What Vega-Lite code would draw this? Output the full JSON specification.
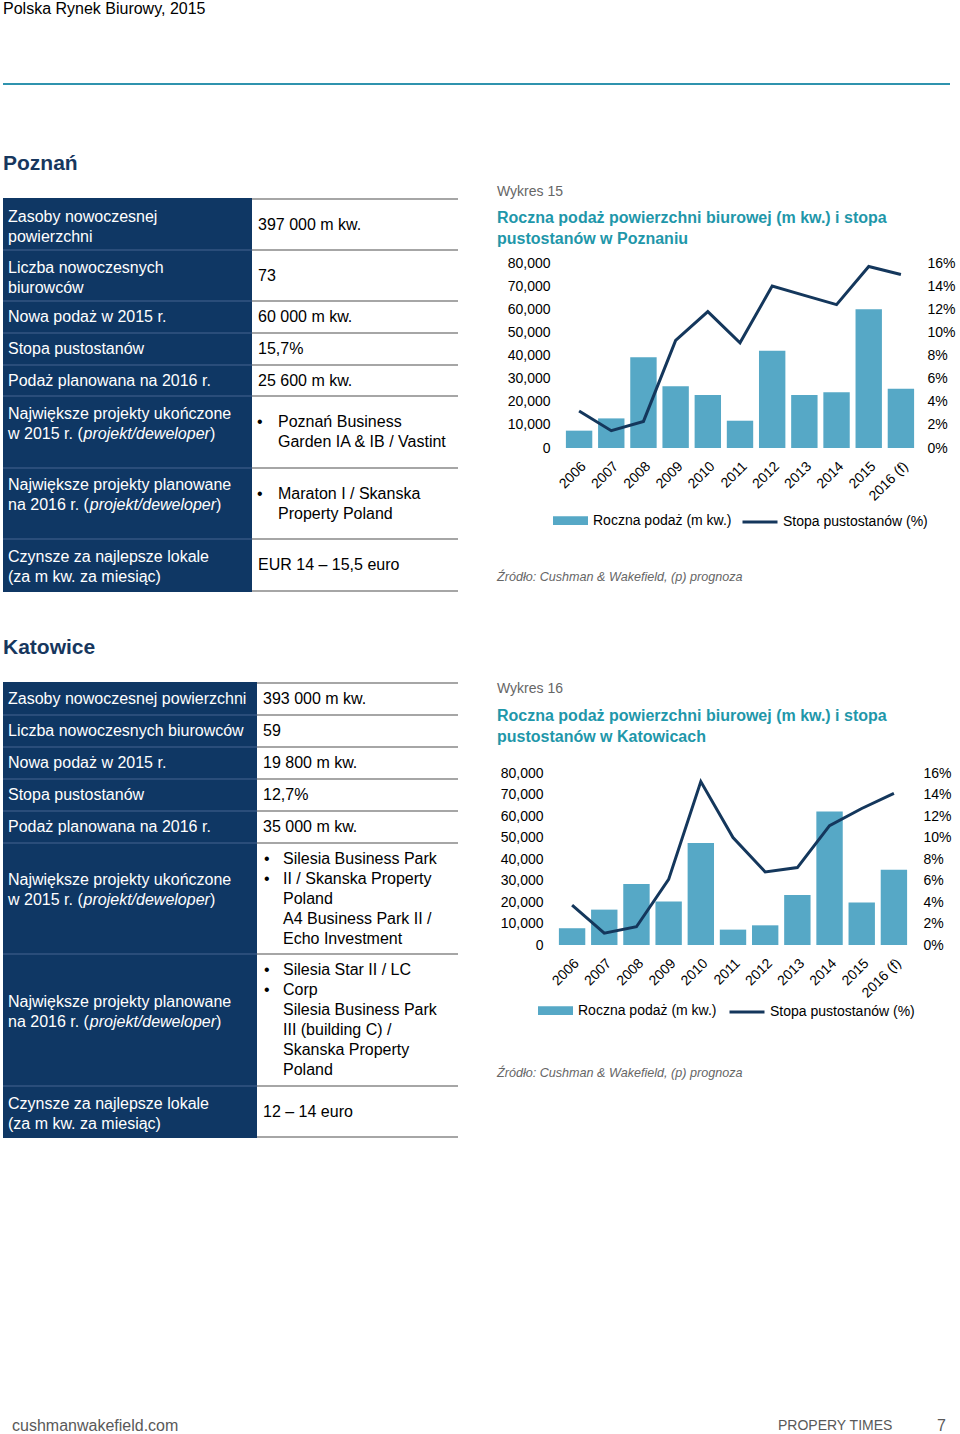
{
"$schema": "https://vega.github.io/schema/vega-lite/v6.json",
"background": "white",
"padding": {"left": 3, "top": 1, "right": 0, "bottom": 0},
"config": {
  "font": "Liberation Sans",
  "view": {"stroke": null},
  "text": {"font": "Liberation Sans"},
  "axis": {"labelFont": "Liberation Sans", "labelColor": "#000000", "labelFontSize": 14},
  "legend": {"labelFont": "Liberation Sans", "labelColor": "#000000", "labelFontSize": 14},
  "title": {"font": "Liberation Sans", "subtitleFont": "Liberation Sans"}
},
"datasets": {"one": [{"k": 1}], "none": []},
"spacing": 0,
"resolve": {"scale": {"fill": "independent", "stroke": "independent"}, "legend": {"fill": "independent", "stroke": "independent"}},
"vconcat": [
  {"width": 947, "height": 2, "data": {"name": "one"}, "mark": {"type": "rect", "color": "#2f93ae"}, "encoding": {},
   "title": {"text": "Polska Rynek Biurowy, 2015", "anchor": "start", "fontSize": 16, "fontWeight": "normal", "color": "#000000", "offset": 66}},
  {"width": 10, "height": 68, "data": {"name": "none"}, "mark": "text", "encoding": {}},
  {"title": {"text": "Poznań", "anchor": "start", "fontSize": 21, "fontWeight": "bold", "color": "#17375e", "offset": 11},
   "spacing": 39,
   "resolve": {"scale": {"fill": "independent", "stroke": "independent"}, "legend": {"fill": "independent", "stroke": "independent"}},
   "hconcat": [
    {"spacing": 0, "vconcat": [
      {"width": 10, "height": 12, "data": {"name": "none"}, "mark": "text", "encoding": {}},
      {"spacing": 0, "hconcat": [
        {"width": 249, "height": 2, "data": {"name": "one"}, "mark": {"type": "rect", "color": "#0f3764"}, "encoding": {}},
        {"width": 206, "height": 2, "data": {"name": "one"}, "mark": {"type": "rect", "color": "#a6a6a6"}, "encoding": {}}]},
      {"spacing": 0, "data": {"values": [{"label": ["Zasoby nowoczesnej", "powierzchni"], "value": ["397 000 m kw."]}]},
       "hconcat": [
        {"width": 249, "height": 49, "layer": [
          {"mark": {"type": "rect", "color": "#0f3764"}, "encoding": {}},
          {"mark": {"type": "text", "x": 5, "dy": -8, "align": "left", "baseline": "middle", "fontSize": 16, "color": "#ffffff", "lineHeight": 20}, "encoding": {"text": {"field": "label"}}}]},
        {"width": 206, "height": 49, "mark": {"type": "text", "x": 6, "align": "left", "baseline": "middle", "fontSize": 16, "color": "#000000", "lineHeight": 20}, "encoding": {"text": {"field": "value"}}}]},
      {"spacing": 0, "hconcat": [
        {"width": 249, "height": 2, "data": {"name": "one"}, "mark": {"type": "rect", "color": "#2a4d7a"}, "encoding": {}},
        {"width": 206, "height": 2, "data": {"name": "one"}, "mark": {"type": "rect", "color": "#a6a6a6"}, "encoding": {}}]},
      {"spacing": 0, "data": {"values": [{"label": ["Liczba nowoczesnych", "biurowców"], "value": ["73"]}]},
       "hconcat": [
        {"width": 249, "height": 49, "layer": [
          {"mark": {"type": "rect", "color": "#0f3764"}, "encoding": {}},
          {"mark": {"type": "text", "x": 5, "dy": -8, "align": "left", "baseline": "middle", "fontSize": 16, "color": "#ffffff", "lineHeight": 20}, "encoding": {"text": {"field": "label"}}}]},
        {"width": 206, "height": 49, "mark": {"type": "text", "x": 6, "align": "left", "baseline": "middle", "fontSize": 16, "color": "#000000", "lineHeight": 20}, "encoding": {"text": {"field": "value"}}}]},
      {"spacing": 0, "hconcat": [
        {"width": 249, "height": 2, "data": {"name": "one"}, "mark": {"type": "rect", "color": "#2a4d7a"}, "encoding": {}},
        {"width": 206, "height": 2, "data": {"name": "one"}, "mark": {"type": "rect", "color": "#a6a6a6"}, "encoding": {}}]},
      {"spacing": 0, "data": {"values": [{"label": ["Nowa podaż w 2015 r."], "value": ["60 000 m kw."]}]},
       "hconcat": [
        {"width": 249, "height": 30, "layer": [
          {"mark": {"type": "rect", "color": "#0f3764"}, "encoding": {}},
          {"mark": {"type": "text", "x": 5, "align": "left", "baseline": "middle", "fontSize": 16, "color": "#ffffff", "lineHeight": 20}, "encoding": {"text": {"field": "label"}}}]},
        {"width": 206, "height": 30, "mark": {"type": "text", "x": 6, "align": "left", "baseline": "middle", "fontSize": 16, "color": "#000000", "lineHeight": 20}, "encoding": {"text": {"field": "value"}}}]},
      {"spacing": 0, "hconcat": [
        {"width": 249, "height": 2, "data": {"name": "one"}, "mark": {"type": "rect", "color": "#2a4d7a"}, "encoding": {}},
        {"width": 206, "height": 2, "data": {"name": "one"}, "mark": {"type": "rect", "color": "#a6a6a6"}, "encoding": {}}]},
      {"spacing": 0, "data": {"values": [{"label": ["Stopa pustostanów"], "value": ["15,7%"]}]},
       "hconcat": [
        {"width": 249, "height": 30, "layer": [
          {"mark": {"type": "rect", "color": "#0f3764"}, "encoding": {}},
          {"mark": {"type": "text", "x": 5, "align": "left", "baseline": "middle", "fontSize": 16, "color": "#ffffff", "lineHeight": 20}, "encoding": {"text": {"field": "label"}}}]},
        {"width": 206, "height": 30, "mark": {"type": "text", "x": 6, "align": "left", "baseline": "middle", "fontSize": 16, "color": "#000000", "lineHeight": 20}, "encoding": {"text": {"field": "value"}}}]},
      {"spacing": 0, "hconcat": [
        {"width": 249, "height": 2, "data": {"name": "one"}, "mark": {"type": "rect", "color": "#2a4d7a"}, "encoding": {}},
        {"width": 206, "height": 2, "data": {"name": "one"}, "mark": {"type": "rect", "color": "#a6a6a6"}, "encoding": {}}]},
      {"spacing": 0, "data": {"values": [{"label": ["Podaż planowana na 2016 r."], "value": ["25 600 m kw."]}]},
       "hconcat": [
        {"width": 249, "height": 29, "layer": [
          {"mark": {"type": "rect", "color": "#0f3764"}, "encoding": {}},
          {"mark": {"type": "text", "x": 5, "align": "left", "baseline": "middle", "fontSize": 16, "color": "#ffffff", "lineHeight": 20}, "encoding": {"text": {"field": "label"}}}]},
        {"width": 206, "height": 29, "mark": {"type": "text", "x": 6, "align": "left", "baseline": "middle", "fontSize": 16, "color": "#000000", "lineHeight": 20}, "encoding": {"text": {"field": "value"}}}]},
      {"spacing": 0, "hconcat": [
        {"width": 249, "height": 2, "data": {"name": "one"}, "mark": {"type": "rect", "color": "#2a4d7a"}, "encoding": {}},
        {"width": 206, "height": 2, "data": {"name": "one"}, "mark": {"type": "rect", "color": "#a6a6a6"}, "encoding": {}}]},
      {"spacing": 0, "data": {"values": [{"l1": "Największe projekty ukończone", "l2a": "w 2015 r. (", "l2b": "projekt/deweloper", "l2c": ")", "bullet": ["•", ""], "value": ["Poznań Business", "Garden IA & IB / Vastint"]}]},
       "hconcat": [
        {"width": 249, "height": 70, "layer": [
          {"mark": {"type": "rect", "color": "#0f3764"}, "encoding": {}},
          {"mark": {"type": "text", "x": 5, "dy": -18.5, "align": "left", "baseline": "middle", "fontSize": 16, "color": "#ffffff"}, "encoding": {"text": {"field": "l1"}}},
          {"mark": {"type": "text", "x": 5, "dy": 1.5, "align": "left", "baseline": "middle", "fontSize": 16, "color": "#ffffff"}, "encoding": {"text": {"field": "l2a"}}},
          {"mark": {"type": "text", "x": 80.6, "dy": 1.5, "align": "left", "baseline": "middle", "fontSize": 16, "fontStyle": "italic", "color": "#ffffff"}, "encoding": {"text": {"field": "l2b"}}},
          {"mark": {"type": "text", "x": 206.9, "dy": 1.5, "align": "left", "baseline": "middle", "fontSize": 16, "color": "#ffffff"}, "encoding": {"text": {"field": "l2c"}}}]},
        {"width": 206, "height": 70, "layer": [
          {"mark": {"type": "text", "x": 5, "dy": -10, "align": "left", "baseline": "middle", "fontSize": 16, "color": "#000000", "lineHeight": 20}, "encoding": {"text": {"field": "bullet"}}},
          {"mark": {"type": "text", "x": 26, "dy": -10, "align": "left", "baseline": "middle", "fontSize": 16, "color": "#000000", "lineHeight": 20}, "encoding": {"text": {"field": "value"}}}]}]},
      {"spacing": 0, "hconcat": [
        {"width": 249, "height": 2, "data": {"name": "one"}, "mark": {"type": "rect", "color": "#2a4d7a"}, "encoding": {}},
        {"width": 206, "height": 2, "data": {"name": "one"}, "mark": {"type": "rect", "color": "#a6a6a6"}, "encoding": {}}]},
      {"spacing": 0, "data": {"values": [{"l1": "Największe projekty planowane", "l2a": "na 2016 r. (", "l2b": "projekt/deweloper", "l2c": ")", "bullet": ["•", ""], "value": ["Maraton I / Skanska", "Property Poland"]}]},
       "hconcat": [
        {"width": 249, "height": 69, "layer": [
          {"mark": {"type": "rect", "color": "#0f3764"}, "encoding": {}},
          {"mark": {"type": "text", "x": 5, "dy": -18.5, "align": "left", "baseline": "middle", "fontSize": 16, "color": "#ffffff"}, "encoding": {"text": {"field": "l1"}}},
          {"mark": {"type": "text", "x": 5, "dy": 1.5, "align": "left", "baseline": "middle", "fontSize": 16, "color": "#ffffff"}, "encoding": {"text": {"field": "l2a"}}},
          {"mark": {"type": "text", "x": 86.8, "dy": 1.5, "align": "left", "baseline": "middle", "fontSize": 16, "fontStyle": "italic", "color": "#ffffff"}, "encoding": {"text": {"field": "l2b"}}},
          {"mark": {"type": "text", "x": 213.1, "dy": 1.5, "align": "left", "baseline": "middle", "fontSize": 16, "color": "#ffffff"}, "encoding": {"text": {"field": "l2c"}}}]},
        {"width": 206, "height": 69, "layer": [
          {"mark": {"type": "text", "x": 5, "dy": -10, "align": "left", "baseline": "middle", "fontSize": 16, "color": "#000000", "lineHeight": 20}, "encoding": {"text": {"field": "bullet"}}},
          {"mark": {"type": "text", "x": 26, "dy": -10, "align": "left", "baseline": "middle", "fontSize": 16, "color": "#000000", "lineHeight": 20}, "encoding": {"text": {"field": "value"}}}]}]},
      {"spacing": 0, "hconcat": [
        {"width": 249, "height": 2, "data": {"name": "one"}, "mark": {"type": "rect", "color": "#2a4d7a"}, "encoding": {}},
        {"width": 206, "height": 2, "data": {"name": "one"}, "mark": {"type": "rect", "color": "#a6a6a6"}, "encoding": {}}]},
      {"spacing": 0, "data": {"values": [{"label": ["Czynsze za najlepsze lokale", "(za m kw. za miesiąc)"], "value": ["EUR 14 – 15,5 euro"]}]},
       "hconcat": [
        {"width": 249, "height": 50, "layer": [
          {"mark": {"type": "rect", "color": "#0f3764"}, "encoding": {}},
          {"mark": {"type": "text", "x": 5, "dy": -8, "align": "left", "baseline": "middle", "fontSize": 16, "color": "#ffffff", "lineHeight": 20}, "encoding": {"text": {"field": "label"}}}]},
        {"width": 206, "height": 50, "mark": {"type": "text", "x": 6, "align": "left", "baseline": "middle", "fontSize": 16, "color": "#000000", "lineHeight": 20}, "encoding": {"text": {"field": "value"}}}]},
      {"spacing": 0, "hconcat": [
        {"width": 249, "height": 2, "data": {"name": "one"}, "mark": {"type": "rect", "color": "#0f3764"}, "encoding": {}},
        {"width": 206, "height": 2, "data": {"name": "one"}, "mark": {"type": "rect", "color": "#a6a6a6"}, "encoding": {}}]}
    ]},
    {"spacing": 0,
     "resolve": {"scale": {"fill": "independent", "stroke": "independent"}, "legend": {"fill": "independent", "stroke": "independent"}},
     "vconcat": [
      {"width": 354, "height": 70, "data": {"name": "none"}, "mark": "text", "encoding": {},
       "title": {"text": "Wykres 15", "subtitle": ["Roczna podaż powierzchni biurowej (m kw.) i stopa", "pustostanów  w Poznaniu"], "anchor": "start", "dx": -66, "fontSize": 14, "fontWeight": "normal", "color": "#666666", "subtitleFontSize": 16, "subtitleFontWeight": "bold", "subtitleColor": "#1f97aa", "subtitleLineHeight": 21, "subtitlePadding": 11, "offset": -61}},
      {"width": 354, "height": 185,
       "data": {"values": [
         {"year": "2006", "supply": 7500, "vacancy": 3.2},
         {"year": "2007", "supply": 12800, "vacancy": 1.5},
         {"year": "2008", "supply": 39200, "vacancy": 2.3},
         {"year": "2009", "supply": 26700, "vacancy": 9.3},
         {"year": "2010", "supply": 22900, "vacancy": 11.8},
         {"year": "2011", "supply": 11800, "vacancy": 9.1},
         {"year": "2012", "supply": 42100, "vacancy": 14.0},
         {"year": "2013", "supply": 22900, "vacancy": 13.2},
         {"year": "2014", "supply": 24100, "vacancy": 12.4},
         {"year": "2015", "supply": 60000, "vacancy": 15.7},
         {"year": "2016 (f)", "supply": 25600, "vacancy": 15.0}]},
       "encoding": {"x": {"field": "year", "type": "ordinal", "sort": null, "scale": {"paddingInner": 0.18, "paddingOuter": 0.09}, "axis": {"title": null, "labelAngle": -45, "ticks": false, "domain": false, "labelPadding": 11}}},
       "layer": [
        {"mark": {"type": "bar"}, "encoding": {
          "y": {"field": "supply", "type": "quantitative", "scale": {"domain": [0, 80000], "nice": false}, "axis": {"orient": "left", "title": null, "values": [0, 10000, 20000, 30000, 40000, 50000, 60000, 70000, 80000], "format": ",d", "grid": false, "domain": false, "ticks": false, "labelPadding": 13}},
          "fill": {"datum": "Roczna podaż (m kw.)", "scale": {"range": ["#56a8c6"]}, "legend": {"orient": "none", "legendX": -10, "legendY": 240, "title": null, "symbolType": "M-1,-0.25H1V0.25H-1Z", "symbolSize": 1225, "symbolStrokeWidth": 0, "labelOffset": 5, "labelLimit": 300, "padding": 0}}}},
        {"mark": {"type": "line", "strokeWidth": 3}, "encoding": {
          "y": {"field": "vacancy", "type": "quantitative", "scale": {"domain": [0, 16], "nice": false}, "axis": {"orient": "right", "title": null, "values": [0, 2, 4, 6, 8, 10, 12, 14, 16], "labelExpr": "datum.value + '%'", "grid": false, "domain": false, "ticks": false, "labelPadding": 10}},
          "stroke": {"datum": "Stopa pustostanów (%)", "scale": {"range": ["#14375c"]}, "legend": {"orient": "none", "legendX": 178, "legendY": 240, "title": null, "symbolType": "M-1,0H1", "symbolSize": 1225, "symbolStrokeWidth": 3, "labelOffset": 4, "labelLimit": 300, "padding": 0}}}}
       ],
       "resolve": {"scale": {"y": "independent"}}},
      {"width": 10, "height": 42, "data": {"name": "none"}, "mark": "text", "encoding": {}},
      {"width": 300, "height": 1, "data": {"name": "none"}, "mark": "text", "encoding": {},
       "title": {"text": "Źródło: Cushman & Wakefield, (p) prognoza", "anchor": "start", "dx": -66, "fontSize": 12.6, "fontStyle": "italic", "fontWeight": "normal", "color": "#666666", "offset": 0}}
    ]}
   ]},
  {"width": 10, "height": 45, "data": {"name": "none"}, "mark": "text", "encoding": {}},
  {"title": {"text": "Katowice", "anchor": "start", "fontSize": 21, "fontWeight": "bold", "color": "#17375e", "offset": 24},
   "spacing": 39,
   "resolve": {"scale": {"fill": "independent", "stroke": "independent"}, "legend": {"fill": "independent", "stroke": "independent"}},
   "hconcat": [
    {"spacing": 0, "vconcat": [
      {"spacing": 0, "hconcat": [
        {"width": 254, "height": 2, "data": {"name": "one"}, "mark": {"type": "rect", "color": "#0f3764"}, "encoding": {}},
        {"width": 201, "height": 2, "data": {"name": "one"}, "mark": {"type": "rect", "color": "#a6a6a6"}, "encoding": {}}]},
      {"spacing": 0, "data": {"values": [{"label": ["Zasoby nowoczesnej powierzchni"], "value": ["393 000 m kw."]}]},
       "hconcat": [
        {"width": 254, "height": 30, "layer": [
          {"mark": {"type": "rect", "color": "#0f3764"}, "encoding": {}},
          {"mark": {"type": "text", "x": 5, "align": "left", "baseline": "middle", "fontSize": 16, "color": "#ffffff", "lineHeight": 20}, "encoding": {"text": {"field": "label"}}}]},
        {"width": 201, "height": 30, "mark": {"type": "text", "x": 6, "align": "left", "baseline": "middle", "fontSize": 16, "color": "#000000", "lineHeight": 20}, "encoding": {"text": {"field": "value"}}}]},
      {"spacing": 0, "hconcat": [
        {"width": 254, "height": 2, "data": {"name": "one"}, "mark": {"type": "rect", "color": "#2a4d7a"}, "encoding": {}},
        {"width": 201, "height": 2, "data": {"name": "one"}, "mark": {"type": "rect", "color": "#a6a6a6"}, "encoding": {}}]},
      {"spacing": 0, "data": {"values": [{"label": ["Liczba nowoczesnych biurowców"], "value": ["59"]}]},
       "hconcat": [
        {"width": 254, "height": 30, "layer": [
          {"mark": {"type": "rect", "color": "#0f3764"}, "encoding": {}},
          {"mark": {"type": "text", "x": 5, "align": "left", "baseline": "middle", "fontSize": 16, "color": "#ffffff", "lineHeight": 20}, "encoding": {"text": {"field": "label"}}}]},
        {"width": 201, "height": 30, "mark": {"type": "text", "x": 6, "align": "left", "baseline": "middle", "fontSize": 16, "color": "#000000", "lineHeight": 20}, "encoding": {"text": {"field": "value"}}}]},
      {"spacing": 0, "hconcat": [
        {"width": 254, "height": 2, "data": {"name": "one"}, "mark": {"type": "rect", "color": "#2a4d7a"}, "encoding": {}},
        {"width": 201, "height": 2, "data": {"name": "one"}, "mark": {"type": "rect", "color": "#a6a6a6"}, "encoding": {}}]},
      {"spacing": 0, "data": {"values": [{"label": ["Nowa podaż w 2015 r."], "value": ["19 800 m kw."]}]},
       "hconcat": [
        {"width": 254, "height": 30, "layer": [
          {"mark": {"type": "rect", "color": "#0f3764"}, "encoding": {}},
          {"mark": {"type": "text", "x": 5, "align": "left", "baseline": "middle", "fontSize": 16, "color": "#ffffff", "lineHeight": 20}, "encoding": {"text": {"field": "label"}}}]},
        {"width": 201, "height": 30, "mark": {"type": "text", "x": 6, "align": "left", "baseline": "middle", "fontSize": 16, "color": "#000000", "lineHeight": 20}, "encoding": {"text": {"field": "value"}}}]},
      {"spacing": 0, "hconcat": [
        {"width": 254, "height": 2, "data": {"name": "one"}, "mark": {"type": "rect", "color": "#2a4d7a"}, "encoding": {}},
        {"width": 201, "height": 2, "data": {"name": "one"}, "mark": {"type": "rect", "color": "#a6a6a6"}, "encoding": {}}]},
      {"spacing": 0, "data": {"values": [{"label": ["Stopa pustostanów"], "value": ["12,7%"]}]},
       "hconcat": [
        {"width": 254, "height": 30, "layer": [
          {"mark": {"type": "rect", "color": "#0f3764"}, "encoding": {}},
          {"mark": {"type": "text", "x": 5, "align": "left", "baseline": "middle", "fontSize": 16, "color": "#ffffff", "lineHeight": 20}, "encoding": {"text": {"field": "label"}}}]},
        {"width": 201, "height": 30, "mark": {"type": "text", "x": 6, "align": "left", "baseline": "middle", "fontSize": 16, "color": "#000000", "lineHeight": 20}, "encoding": {"text": {"field": "value"}}}]},
      {"spacing": 0, "hconcat": [
        {"width": 254, "height": 2, "data": {"name": "one"}, "mark": {"type": "rect", "color": "#2a4d7a"}, "encoding": {}},
        {"width": 201, "height": 2, "data": {"name": "one"}, "mark": {"type": "rect", "color": "#a6a6a6"}, "encoding": {}}]},
      {"spacing": 0, "data": {"values": [{"label": ["Podaż planowana na 2016 r."], "value": ["35 000 m kw."]}]},
       "hconcat": [
        {"width": 254, "height": 30, "layer": [
          {"mark": {"type": "rect", "color": "#0f3764"}, "encoding": {}},
          {"mark": {"type": "text", "x": 5, "align": "left", "baseline": "middle", "fontSize": 16, "color": "#ffffff", "lineHeight": 20}, "encoding": {"text": {"field": "label"}}}]},
        {"width": 201, "height": 30, "mark": {"type": "text", "x": 6, "align": "left", "baseline": "middle", "fontSize": 16, "color": "#000000", "lineHeight": 20}, "encoding": {"text": {"field": "value"}}}]},
      {"spacing": 0, "hconcat": [
        {"width": 254, "height": 2, "data": {"name": "one"}, "mark": {"type": "rect", "color": "#2a4d7a"}, "encoding": {}},
        {"width": 201, "height": 2, "data": {"name": "one"}, "mark": {"type": "rect", "color": "#a6a6a6"}, "encoding": {}}]},
      {"spacing": 0, "data": {"values": [{"l1": "Największe projekty ukończone", "l2a": "w 2015 r. (", "l2b": "projekt/deweloper", "l2c": ")", "bullet": ["•", "", "", "•", ""], "value": ["Silesia Business Park", "II / Skanska Property", "Poland", "A4 Business Park II /", "Echo Investment"]}]},
       "hconcat": [
        {"width": 254, "height": 109, "layer": [
          {"mark": {"type": "rect", "color": "#0f3764"}, "encoding": {}},
          {"mark": {"type": "text", "x": 5, "dy": -18.5, "align": "left", "baseline": "middle", "fontSize": 16, "color": "#ffffff"}, "encoding": {"text": {"field": "l1"}}},
          {"mark": {"type": "text", "x": 5, "dy": 1.5, "align": "left", "baseline": "middle", "fontSize": 16, "color": "#ffffff"}, "encoding": {"text": {"field": "l2a"}}},
          {"mark": {"type": "text", "x": 80.6, "dy": 1.5, "align": "left", "baseline": "middle", "fontSize": 16, "fontStyle": "italic", "color": "#ffffff"}, "encoding": {"text": {"field": "l2b"}}},
          {"mark": {"type": "text", "x": 206.9, "dy": 1.5, "align": "left", "baseline": "middle", "fontSize": 16, "color": "#ffffff"}, "encoding": {"text": {"field": "l2c"}}}]},
        {"width": 201, "height": 109, "layer": [
          {"mark": {"type": "text", "x": 7, "dy": -40, "align": "left", "baseline": "middle", "fontSize": 16, "color": "#000000", "lineHeight": 20}, "encoding": {"text": {"field": "bullet"}}},
          {"mark": {"type": "text", "x": 26, "dy": -40, "align": "left", "baseline": "middle", "fontSize": 16, "color": "#000000", "lineHeight": 20}, "encoding": {"text": {"field": "value"}}}]}]},
      {"spacing": 0, "hconcat": [
        {"width": 254, "height": 2, "data": {"name": "one"}, "mark": {"type": "rect", "color": "#2a4d7a"}, "encoding": {}},
        {"width": 201, "height": 2, "data": {"name": "one"}, "mark": {"type": "rect", "color": "#a6a6a6"}, "encoding": {}}]},
      {"spacing": 0, "data": {"values": [{"l1": "Największe projekty planowane", "l2a": "na 2016 r. (", "l2b": "projekt/deweloper", "l2c": ")", "bullet": ["•", "", "•", "", "", ""], "value": ["Silesia Star II / LC", "Corp", "Silesia Business Park", "III (building C) /", "Skanska Property", "Poland"]}]},
       "hconcat": [
        {"width": 254, "height": 130, "layer": [
          {"mark": {"type": "rect", "color": "#0f3764"}, "encoding": {}},
          {"mark": {"type": "text", "x": 5, "dy": -18.5, "align": "left", "baseline": "middle", "fontSize": 16, "color": "#ffffff"}, "encoding": {"text": {"field": "l1"}}},
          {"mark": {"type": "text", "x": 5, "dy": 1.5, "align": "left", "baseline": "middle", "fontSize": 16, "color": "#ffffff"}, "encoding": {"text": {"field": "l2a"}}},
          {"mark": {"type": "text", "x": 86.8, "dy": 1.5, "align": "left", "baseline": "middle", "fontSize": 16, "fontStyle": "italic", "color": "#ffffff"}, "encoding": {"text": {"field": "l2b"}}},
          {"mark": {"type": "text", "x": 213.1, "dy": 1.5, "align": "left", "baseline": "middle", "fontSize": 16, "color": "#ffffff"}, "encoding": {"text": {"field": "l2c"}}}]},
        {"width": 201, "height": 130, "layer": [
          {"mark": {"type": "text", "x": 7, "dy": -50, "align": "left", "baseline": "middle", "fontSize": 16, "color": "#000000", "lineHeight": 20}, "encoding": {"text": {"field": "bullet"}}},
          {"mark": {"type": "text", "x": 26, "dy": -50, "align": "left", "baseline": "middle", "fontSize": 16, "color": "#000000", "lineHeight": 20}, "encoding": {"text": {"field": "value"}}}]}]},
      {"spacing": 0, "hconcat": [
        {"width": 254, "height": 2, "data": {"name": "one"}, "mark": {"type": "rect", "color": "#2a4d7a"}, "encoding": {}},
        {"width": 201, "height": 2, "data": {"name": "one"}, "mark": {"type": "rect", "color": "#a6a6a6"}, "encoding": {}}]},
      {"spacing": 0, "data": {"values": [{"label": ["Czynsze za najlepsze lokale", "(za m kw. za miesiąc)"], "value": ["12 – 14 euro"]}]},
       "hconcat": [
        {"width": 254, "height": 49, "layer": [
          {"mark": {"type": "rect", "color": "#0f3764"}, "encoding": {}},
          {"mark": {"type": "text", "x": 5, "dy": -8, "align": "left", "baseline": "middle", "fontSize": 16, "color": "#ffffff", "lineHeight": 20}, "encoding": {"text": {"field": "label"}}}]},
        {"width": 201, "height": 49, "mark": {"type": "text", "x": 6, "align": "left", "baseline": "middle", "fontSize": 16, "color": "#000000", "lineHeight": 20}, "encoding": {"text": {"field": "value"}}}]},
      {"spacing": 0, "hconcat": [
        {"width": 254, "height": 2, "data": {"name": "one"}, "mark": {"type": "rect", "color": "#0f3764"}, "encoding": {}},
        {"width": 201, "height": 2, "data": {"name": "one"}, "mark": {"type": "rect", "color": "#a6a6a6"}, "encoding": {}}]}
    ]},
    {"spacing": 0,
     "resolve": {"scale": {"fill": "independent", "stroke": "independent"}, "legend": {"fill": "independent", "stroke": "independent"}},
     "vconcat": [
      {"width": 354, "height": 84, "data": {"name": "none"}, "mark": "text", "encoding": {},
       "title": {"text": "Wykres 16", "subtitle": ["Roczna podaż powierzchni biurowej (m kw.) i stopa", "pustostanów w Katowicach"], "anchor": "start", "dx": -59, "fontSize": 14, "fontWeight": "normal", "color": "#666666", "subtitleFontSize": 16, "subtitleFontWeight": "bold", "subtitleColor": "#1f97aa", "subtitleLineHeight": 21, "subtitlePadding": 12, "offset": -63}},
      {"width": 354, "height": 172,
       "data": {"values": [
         {"year": "2006", "supply": 7800, "vacancy": 3.7},
         {"year": "2007", "supply": 16450, "vacancy": 1.1},
         {"year": "2008", "supply": 28400, "vacancy": 1.7},
         {"year": "2009", "supply": 20200, "vacancy": 6.1},
         {"year": "2010", "supply": 47500, "vacancy": 15.2},
         {"year": "2011", "supply": 7150, "vacancy": 10.0},
         {"year": "2012", "supply": 9150, "vacancy": 6.8},
         {"year": "2013", "supply": 23300, "vacancy": 7.2},
         {"year": "2014", "supply": 62100, "vacancy": 11.1},
         {"year": "2015", "supply": 19800, "vacancy": 12.7},
         {"year": "2016 (f)", "supply": 35000, "vacancy": 14.1}]},
       "encoding": {"x": {"field": "year", "type": "ordinal", "sort": null, "scale": {"paddingInner": 0.18, "paddingOuter": 0.09}, "axis": {"title": null, "labelAngle": -45, "ticks": false, "domain": false, "labelPadding": 11}}},
       "layer": [
        {"mark": {"type": "bar"}, "encoding": {
          "y": {"field": "supply", "type": "quantitative", "scale": {"domain": [0, 80000], "nice": false}, "axis": {"orient": "left", "title": null, "values": [0, 10000, 20000, 30000, 40000, 50000, 60000, 70000, 80000], "format": ",d", "grid": false, "domain": false, "ticks": false, "labelPadding": 13}},
          "fill": {"datum": "Roczna podaż (m kw.)", "scale": {"range": ["#56a8c6"]}, "legend": {"orient": "none", "legendX": -18, "legendY": 220, "title": null, "symbolType": "M-1,-0.25H1V0.25H-1Z", "symbolSize": 1225, "symbolStrokeWidth": 0, "labelOffset": 5, "labelLimit": 300, "padding": 0}}}},
        {"mark": {"type": "line", "strokeWidth": 3}, "encoding": {
          "y": {"field": "vacancy", "type": "quantitative", "scale": {"domain": [0, 16], "nice": false}, "axis": {"orient": "right", "title": null, "values": [0, 2, 4, 6, 8, 10, 12, 14, 16], "labelExpr": "datum.value + '%'", "grid": false, "domain": false, "ticks": false, "labelPadding": 13}},
          "stroke": {"datum": "Stopa pustostanów (%)", "scale": {"range": ["#14375c"]}, "legend": {"orient": "none", "legendX": 172, "legendY": 220, "title": null, "symbolType": "M-1,0H1", "symbolSize": 1225, "symbolStrokeWidth": 3, "labelOffset": 4, "labelLimit": 300, "padding": 0}}}}
       ],
       "resolve": {"scale": {"y": "independent"}}},
      {"width": 10, "height": 48, "data": {"name": "none"}, "mark": "text", "encoding": {}},
      {"width": 300, "height": 1, "data": {"name": "none"}, "mark": "text", "encoding": {},
       "title": {"text": "Źródło: Cushman & Wakefield, (p) prognoza", "anchor": "start", "dx": -59, "fontSize": 12.6, "fontStyle": "italic", "fontWeight": "normal", "color": "#666666", "offset": 0}}
    ]}
   ]},
  {"width": 10, "height": 280, "data": {"name": "none"}, "mark": "text", "encoding": {}},
  {"width": 947, "height": 16, "data": {"values": [{"site": "cushmanwakefield.com", "pub": "PROPERY TIMES", "page": "7"}]},
   "layer": [
    {"mark": {"type": "text", "x": 9, "align": "left", "baseline": "middle", "fontSize": 16, "color": "#595959", "font": "Liberation Sans"}, "encoding": {"text": {"field": "site"}}},
    {"mark": {"type": "text", "x": 775, "align": "left", "baseline": "middle", "fontSize": 14, "color": "#595959", "font": "Liberation Sans"}, "encoding": {"text": {"field": "pub"}}},
    {"mark": {"type": "text", "x": 934, "align": "left", "baseline": "middle", "fontSize": 16, "color": "#595959", "font": "Liberation Sans"}, "encoding": {"text": {"field": "page"}}}
   ]}
]
}
